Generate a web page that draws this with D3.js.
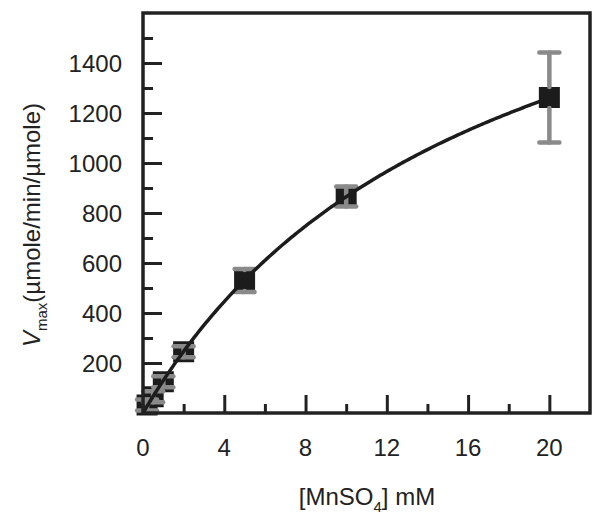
<!DOCTYPE html>
<html><head><meta charset="utf-8">
<script src="https://cdn.jsdelivr.net/npm/d3@7"></script>
<style>body{margin:0;background:#fff}svg{display:block}text{font-family:"Liberation Sans",Arial,sans-serif;fill:#222}</style>
</head><body><svg id="c" width="600" height="523"></svg>
<script>
// Data
const concentrations = [0.2, 0.5, 1, 2, 5, 10, 20];        // [MnSO4] mM
const vmaxValues     = [32, 65, 125, 245, 530, 866, 1262]; // µmole/min/µmole
const errors         = [22, 22, 22, 22, 46, 40, 180];
const xTickValues = [0, 4, 8, 12, 16, 20];
const yTickValues = [200, 400, 600, 800, 1000, 1200, 1400];
// Michaelis-Menten fit parameters
const fitVmax = 2318, fitKm = 16.8;

const svg = d3.select("#c");
const L = 143, R = 590, T = 13, B = 413;
const x = d3.scaleLinear().domain([0, 22]).range([L, R]);
const y = d3.scaleLinear().domain([0, 1600]).range([B, T]);
const ink = "#222";

// Ticks (inside)
const gx = svg.append("g").attr("transform", `translate(0,${B})`);
gx.call(d3.axisBottom(x).tickValues(d3.range(2, 22, 2)).tickSize(-9).tickFormat(""));
gx.call(g => g.selectAll(".tick line").filter(d => d % 4 === 0).attr("y2", -18));
gx.select(".domain").remove();
gx.selectAll(".tick line").attr("stroke", ink).attr("stroke-width", 3);

const gy = svg.append("g").attr("transform", `translate(${L},0)`);
gy.call(d3.axisLeft(y).tickValues(d3.range(100, 1600, 100)).tickSize(-10).tickFormat(""));
gy.call(g => g.selectAll(".tick line").filter(d => d % 200 === 0).attr("x2", 19));
gy.select(".domain").remove();
gy.selectAll(".tick line").attr("stroke", ink).attr("stroke-width", 3);

// Tick labels
svg.append("g").selectAll("text").data(xTickValues).join("text")
  .attr("x", d => x(d)).attr("y", 456).attr("text-anchor", "middle")
  .attr("font-size", 24).text(d => d);
svg.append("g").selectAll("text").data(yTickValues).join("text")
  .attr("x", 122).attr("y", d => y(d) + 8.5).attr("text-anchor", "end")
  .attr("font-size", 24).text(d => d);

const pts = concentrations.map((c, i) => ({x: c, y: vmaxValues[i], e: errors[i]}));
const s = 21;
const grey = "#8a8a8a";

// Markers
svg.append("g").selectAll("rect").data(pts).join("rect")
  .attr("x", d => x(d.x) - s / 2).attr("y", d => y(d.y) - s / 2)
  .attr("width", s).attr("height", s).attr("fill", "#1c1c1c");

// Error bars: caps on top; stems cross the marker only when the bar is shorter than it
const eg = svg.append("g").attr("stroke", grey).attr("stroke-width", 4.5).attr("stroke-linecap", "round");
pts.forEach(p => {
  const cx = x(p.x), cy = y(p.y), top = y(p.y + p.e), bot = y(p.y - p.e);
  if (cy - top > s / 2) {
    eg.append("line").attr("x1", cx).attr("x2", cx).attr("y1", top).attr("y2", cy - s / 2);
    eg.append("line").attr("x1", cx).attr("x2", cx).attr("y1", cy + s / 2).attr("y2", bot);
  } else {
    eg.append("line").attr("x1", cx).attr("x2", cx).attr("y1", top).attr("y2", bot);
  }
  [top, bot].forEach(v => eg.append("line").attr("x1", cx - 10).attr("x2", cx + 10).attr("y1", v).attr("y2", v));
});

// Fit curve
const fx = d3.range(0, 20.001, 0.1);
svg.append("path").datum(fx)
  .attr("d", d3.line().x(d => x(d)).y(d => y(fitVmax * d / (fitKm + d))))
  .attr("fill", "none").attr("stroke", "#1c1c1c").attr("stroke-width", 3.5);

// Frame
svg.append("rect").attr("x", L).attr("y", T).attr("width", R - L).attr("height", B - T)
  .attr("fill", "none").attr("stroke", ink).attr("stroke-width", 3.5);

// Axis titles
const xt = svg.append("text").attr("x", 367).attr("y", 505).attr("text-anchor", "middle").attr("font-size", 24);
xt.append("tspan").text("[MnSO");
xt.append("tspan").attr("font-size", 15).attr("dy", 7).text("4");
xt.append("tspan").attr("dy", -7).text("] mM");

const yt = svg.append("text").attr("transform", "translate(40,225) rotate(-90)").attr("text-anchor", "middle").attr("font-size", 24);
yt.append("tspan").attr("font-style", "italic").text("V");
yt.append("tspan").attr("font-size", 15).attr("dy", 7).text("max");
yt.append("tspan").attr("dy", -7).text("(µmole/min/µmole)");
</script></body></html>
